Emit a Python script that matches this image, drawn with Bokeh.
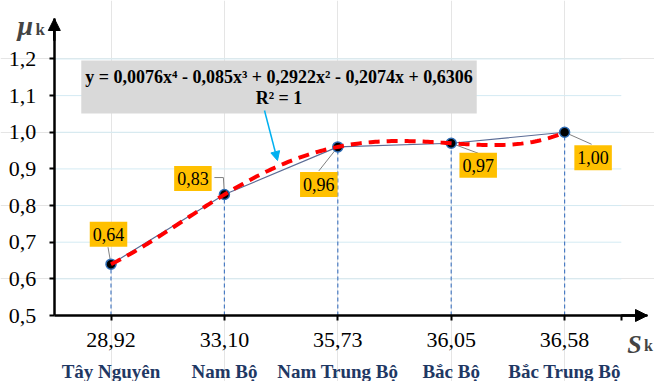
import numpy as np
from bokeh.plotting import figure
from bokeh.models import Range1d, FixedTicker, LinearAxis, Label, Arrow, NormalHead
from bokeh.embed import file_html
from bokeh.resources import INLINE

# ---------------- data ----------------
s_values = ["28,92", "33,10", "35,73", "36,05", "36,58"]
regions = ["Tây Nguyên", "Nam Bộ", "Nam Trung Bộ", "Bắc Bộ", "Bắc Trung Bộ"]
mu_values = [0.64, 0.83, 0.96, 0.97, 1.00]
mu_labels = ["0,64", "0,83", "0,96", "0,97", "1,00"]
y_ticks = [0.5, 0.6, 0.7, 0.8, 0.9, 1.0, 1.1, 1.2]
y_tick_labels = ["0,5", "0,6", "0,7", "0,8", "0,9", "1,0", "1,1", "1,2"]
equation_text = "y = 0,0076x⁴ - 0,085x³ + 0,2922x² - 0,2074x + 0,6306\nR² = 1"

idx = list(range(1, len(mu_values) + 1))

# ---------------- layout ----------------
W, H = 654, 381
PX_X = 113.4     # px per category
PX_Y = 366.5     # px per 1.0 of mu
CAT1_PX = 110.5  # pixel column of first category
BASE_PX = 315.0  # pixel row of the x axis (mu = 0.5)
x0, y0 = 0.5, 0.5
x_start = 1 - CAT1_PX / PX_X
x_end = 1 + (W - CAT1_PX) / PX_X
y_start = y0 - (H - BASE_PX) / PX_Y
y_end = y0 + BASE_PX / PX_Y
x_last = len(mu_values) + 0.5
X_TIP = 1 + (647 - CAT1_PX) / PX_X
Y_TIP = y0 + (BASE_PX - 18) / PX_Y

SERIF = "Liberation Serif"

p = figure(width=W, height=H, x_range=Range1d(x_start, x_end), y_range=Range1d(y_start, y_end),
           output_backend="svg", toolbar_location=None,
           x_axis_location=None, y_axis_location=None,
           min_border_left=0, min_border_right=0, min_border_top=0, min_border_bottom=0)
p.outline_line_color = None
p.background_fill_color = "white"

# grid lines
g = y_ticks[1:]
p.segment(x0=[x0] * len(g), y0=g, x1=[x_last] * len(g), y1=g, line_color="#d4ebf3", line_width=1)

# axes
xaxis = LinearAxis(ticker=FixedTicker(ticks=idx + [x_last]), fixed_location=y0, bounds=(x0, X_TIP),
                   major_label_overrides={**dict(zip(idx, s_values)), x_last: ""})
xaxis.axis_line_width = 2.5
xaxis.axis_line_color = "black"
xaxis.major_tick_line_width = 2
xaxis.major_tick_out = 5
xaxis.major_tick_in = 0
xaxis.major_label_standoff = 12
xaxis.major_label_text_font = SERIF
xaxis.major_label_text_font_size = "22px"
xaxis.major_label_text_color = "black"
p.add_layout(xaxis, "below")

raxis = LinearAxis(ticker=FixedTicker(ticks=idx), fixed_location=y0,
                   major_label_overrides=dict(zip(idx, regions)))
raxis.axis_line_color = None
raxis.major_tick_line_color = None
raxis.major_tick_out = 0
raxis.major_tick_in = 0
raxis.major_label_standoff = 45
raxis.major_label_text_font = SERIF
raxis.major_label_text_font_style = "bold"
raxis.major_label_text_font_size = "19px"
raxis.major_label_text_color = "#1f3864"
p.add_layout(raxis, "below")

yaxis = LinearAxis(ticker=FixedTicker(ticks=y_ticks), fixed_location=x0, bounds=(y0, Y_TIP),
                   major_label_overrides=dict(zip(y_ticks, y_tick_labels)))
yaxis.axis_line_width = 2.5
yaxis.axis_line_color = "black"
yaxis.major_tick_line_width = 2
yaxis.major_tick_out = 5
yaxis.major_tick_in = 0
yaxis.major_label_standoff = 13
yaxis.major_label_text_font = SERIF
yaxis.major_label_text_font_size = "22px"
yaxis.major_label_text_color = "black"
p.add_layout(yaxis, "left")

# axis arrow heads
p.add_layout(Arrow(x_start=x0, y_start=1.25, x_end=x0, y_end=Y_TIP,
                   line_color="black", line_width=2.5,
                   end=NormalHead(size=12, fill_color="black", line_color="black")))
p.add_layout(Arrow(x_start=x_last, y_start=y0, x_end=X_TIP, y_end=y0,
                   line_color="black", line_width=2.5,
                   end=NormalHead(size=12, fill_color="black", line_color="black")))

# drop lines
p.segment(x0=idx, y0=[y0] * len(idx), x1=idx, y1=mu_values,
          line_color="#4a7cc4", line_width=1.2, line_dash="4 3")

# leader lines (pixel offsets from each point)
leaders = [[(0, 0), (-3, 17)],
           [(0, 0), (-1, 17), (-10, 17)],
           [(0, 0), (-19, -24)],
           [(0, 0), (27, -10)],
           [(0, 0), (27, -12)]]
lx = [[i + dx / PX_X for dx, dy in seg] for i, seg in zip(idx, leaders)]
ly = [[v + dy / PX_Y for dx, dy in seg] for v, seg in zip(mu_values, leaders)]
p.multi_line(lx, ly, line_color="#808080", line_width=1)

# series line and markers
p.line(idx, mu_values, line_color="#5b6c96", line_width=1.2)
p.scatter(idx, mu_values, size=10, fill_color="black", line_color="#2f6db5", line_width=1.5)

# polynomial trend line (degree 4 fit of the data)
coef = np.polyfit(idx, mu_values, 4)
xs = np.linspace(idx[0], idx[-1], 200)
p.line(xs, np.polyval(coef, xs), line_color="#ff0000", line_width=4, line_dash="11 7")

# data labels
label_offsets = [(-2.5, 30), (-31.5, 16), (-19, -37.5), (27, -22), (28.5, -25.5)]
for i, v, t, (dx, dy) in zip(idx, mu_values, mu_labels, label_offsets):
    p.add_layout(Label(x=i, y=v, x_offset=dx, y_offset=dy, text=t,
                       text_align="center", text_baseline="middle",
                       text_font=SERIF, text_font_size="18px", text_color="black",
                       background_fill_color="#ffc000", padding=(3, 6)))

# equation box
EQ_X = 1 + (278.5 - CAT1_PX) / PX_X
EQ_Y = y0 + (BASE_PX - 86.5) / PX_Y
p.add_layout(Label(x=EQ_X, y=EQ_Y, text=equation_text, text_align="center", text_baseline="middle",
                   text_font=SERIF, text_font_size="18px", text_font_style="bold",
                   text_color="black", text_line_height=1.05,
                   background_fill_color="#d9d9d9", padding=(4, 6)))

# arrow from equation to trend line
AX0 = 1 + (264 - CAT1_PX) / PX_X
AY0 = y0 + (BASE_PX - 110) / PX_Y
AX1 = 1 + (277 - CAT1_PX) / PX_X
AY1 = y0 + (BASE_PX - 160) / PX_Y
p.add_layout(Arrow(x_start=AX0, y_start=AY0, x_end=AX1, y_end=AY1,
                   line_color="#00b0f0", line_width=1.5,
                   end=NormalHead(size=9, fill_color="#00b0f0", line_color="#00b0f0")))

# axis titles
p.add_layout(Label(x=x0, y=Y_TIP, x_offset=-29, y_offset=-7, text="μ",
                   text_align="center", text_baseline="alphabetic",
                   text_font=SERIF, text_font_size="28px", text_font_style="bold italic"))
p.add_layout(Label(x=x0, y=Y_TIP, x_offset=-14, y_offset=-11, text="k",
                   text_align="center", text_baseline="alphabetic",
                   text_font=SERIF, text_font_size="17px", text_font_style="bold"))
p.add_layout(Label(x=X_TIP, y=y0, x_offset=-13, y_offset=-29, text="S",
                   text_align="center", text_baseline="alphabetic",
                   text_font=SERIF, text_font_size="26px", text_font_style="bold italic"))
p.add_layout(Label(x=X_TIP, y=y0, x_offset=1, y_offset=-30, text="k",
                   text_align="center", text_baseline="alphabetic",
                   text_font=SERIF, text_font_size="16px", text_font_style="bold"))

open("out.html", "w").write(file_html(p, INLINE))
